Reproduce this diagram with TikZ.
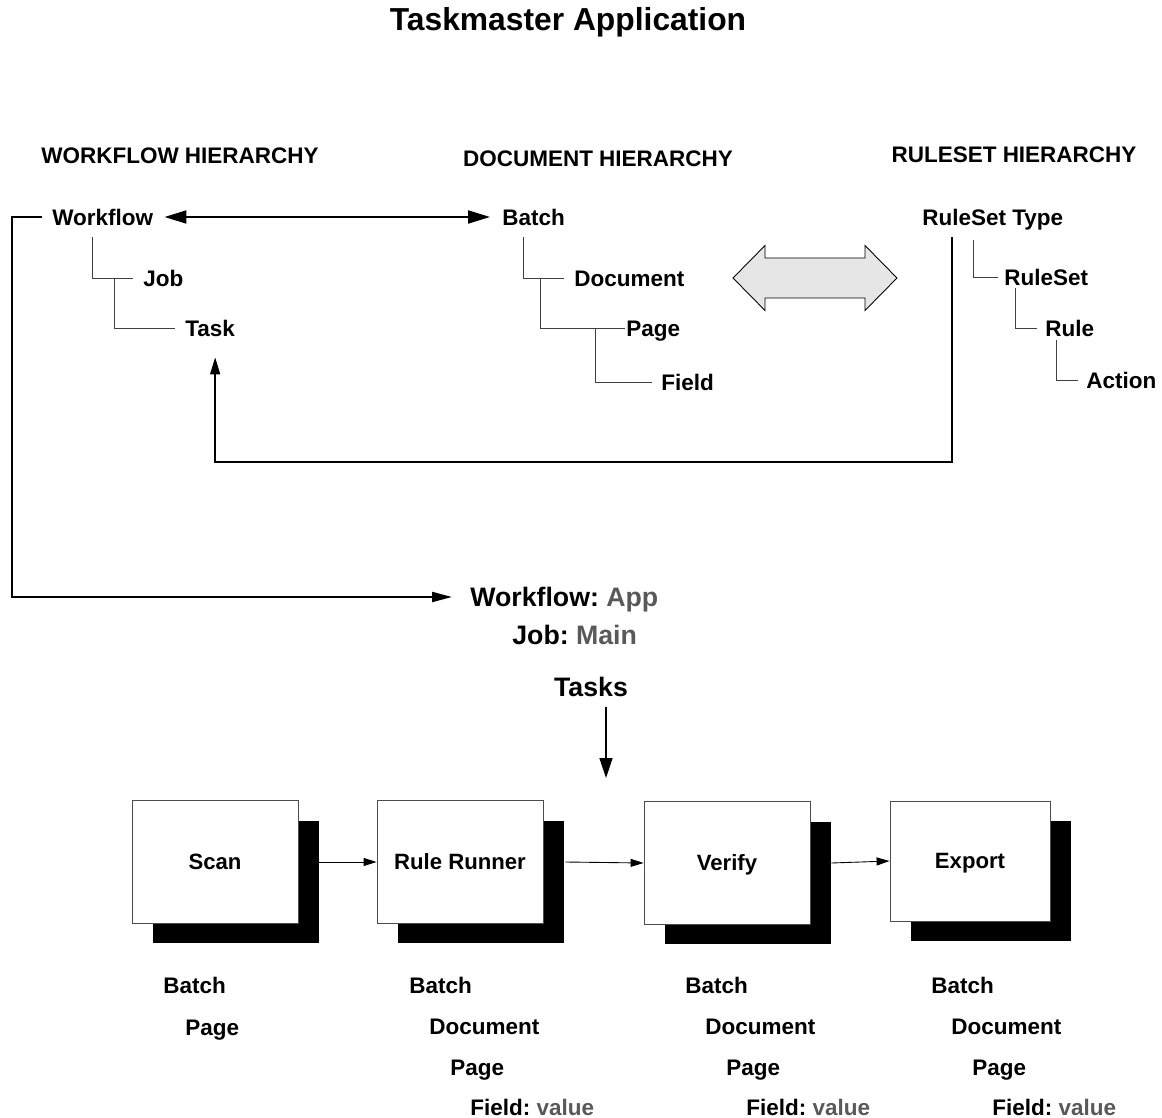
\documentclass[tikz,border=0pt]{standalone}
\usepackage{fontspec}
\setmainfont{Liberation Sans}
\usetikzlibrary{shadows,arrows.meta}
\definecolor{valueGray}{HTML}{595959}
\definecolor{arrowFill}{HTML}{E6E6E6}
\frenchspacing
\tikzset{
  item/.style={inner sep=0pt, anchor=west, text height=9.2pt, text depth=0pt, font=\fontsize{12.8}{15}\selectfont\bfseries},
  big/.style={inner sep=0pt, text height=10.9pt, text depth=0pt, font=\fontsize{15.2}{18}\selectfont\bfseries},
  heading/.style={inner sep=0pt, text height=9.2pt, text depth=0pt, font=\fontsize{12.8}{15}\selectfont\bfseries},
  taskBox/.style={rectangle, draw=black!70, line width=0.5pt, fill=white, minimum width=3.32cm, minimum height=2.46cm,
    text height=9pt, text depth=0pt, font=\fontsize{12.6}{15}\selectfont\bfseries,
    drop shadow={shadow xshift=0.42cm, shadow yshift=-0.4cm, fill=black, opacity=1}},
  treeEdge/.style={draw=black!75, line width=0.5pt},
  link/.style={line width=1.2pt},
  feedback/.style={line width=0.8pt, -{Triangle[length=0.34cm,width=0.2cm]}},
  flow/.style={line width=0.5pt, -{Triangle[length=0.26cm,width=0.16cm]}}
}
\begin{document}
\begin{tikzpicture}[x=0.02cm, y=-0.02cm]
  \useasboundingbox (0,0) rectangle (1162,1118);
  \node[inner sep=0pt, font=\fontsize{18.1}{21}\selectfont\bfseries] (title) at (568,22) {Taskmaster Application};

  % headings
  \node[heading] (wfHead) at (180,155) {WORKFLOW HIERARCHY};
  \node[heading] (docHead) at (598,158) {DOCUMENT HIERARCHY};
  \node[heading] (rsHead) at (1014,154) {RULESET HIERARCHY};

  % workflow hierarchy
  \node[item] (wf) at (52,217) {Workflow};
  \node[item] (job) at (143,278) {Job};
  \node[item] (task) at (185,328) {Task};
  \draw[treeEdge] ([xshift=0.8cm, yshift=-0.24cm]wf.south west) |- ([xshift=-0.2cm]job.west);
  \draw[treeEdge] ([xshift=-0.58cm]job.west) |- ([xshift=-0.2cm]task.west);

  % document hierarchy
  \node[item] (batch) at (502,217) {Batch};
  \node[item] (doc) at (574,278) {Document};
  \node[item] (page) at (626,328) {Page};
  \node[item] (field) at (661,382) {Field};
  \draw[treeEdge] ([xshift=0.42cm, yshift=-0.24cm]batch.south west) |- ([xshift=-0.2cm]doc.west);
  \draw[treeEdge] ([xshift=-0.68cm]doc.west) |- ([xshift=-0.02cm]page.west);
  \draw[treeEdge] ([xshift=-0.62cm]page.west) |- ([xshift=-0.18cm]field.west);

  % ruleset hierarchy
  \node[item] (rsType) at (922,217) {RuleSet Type};
  \node[item] (ruleSet) at (1004,277) {RuleSet};
  \node[item] (rule) at (1045,328) {Rule};
  \node[item] (action) at (1086,380) {Action};
  \draw[treeEdge] ([xshift=1.02cm, yshift=-0.3cm]rsType.south west) |- ([xshift=-0.12cm]ruleSet.west);
  \draw[treeEdge] ([xshift=0.22cm, yshift=-0.06cm]ruleSet.south west) |- ([xshift=-0.16cm]rule.west);
  \draw[treeEdge] ([xshift=0.22cm, yshift=-0.08cm]rule.south west) |- ([xshift=-0.16cm]action.west);

  % links between hierarchies
  \draw[link, {Triangle[length=0.44cm,width=0.26cm]}-{Triangle[length=0.44cm,width=0.26cm]}]
    ([xshift=0.22cm]wf.east) -- ([xshift=-0.24cm]batch.west);
  \draw[draw=black, line width=0.5pt, fill=arrowFill] (733,278) -- (765,245.5) -- (765,258) -- (865,258) -- (865,245.5)
    -- (897,278) -- (865,310.5) -- (865,298) -- (765,298) -- (765,310.5) -- cycle;
  \coordinate (rsCorner) at (952,462);
  \draw[feedback, shorten <=0.24cm, shorten >=0.42cm] (rsType.south west -| rsCorner) -- (rsCorner) -| ([xshift=0.1cm]task.south);

  % application
  \node[item, big, anchor=west] (wfApp) at (470,597) {Workflow: \textcolor{valueGray}{App}};
  \node[item, big, anchor=west] (jobMain) at (512,635) {Job: \textcolor{valueGray}{Main}};
  \node[big] (tasks) at (591,687) {Tasks};
  \draw[link, -{Triangle[length=0.4cm,width=0.2cm]}] ([xshift=-0.2cm]wf.west) -- ++(-30,0) |- ([xshift=-0.36cm]wfApp.west);
  \coordinate (tasksTip) at (606,778);
  \draw[line width=0.9pt, -{Triangle[length=0.4cm,width=0.26cm]}, shorten <=0.2cm] (tasks.south -| tasksTip) -- (tasksTip);

  % task boxes
  \node[taskBox] (scan) at (215,862) {Scan};
  \node[taskBox] (runner) at (460,862) {Rule Runner};
  \node[taskBox] (verify) at (727,863) {Verify};
  \node[taskBox, minimum width=3.2cm, minimum height=2.4cm] (export) at (970,861) {Export};
  \draw[flow] ([xshift=0.42cm]scan.east) -- (runner.west);
  \draw[flow] ([xshift=0.44cm]runner.east) -- (verify.west);
  \draw[flow] ([xshift=0.42cm]verify.east) -- (export.west);

  % data used by each task
  \node[item] (scanBatch) at (163,985) {Batch};
  \node[item] (scanPage) at (185,1027) {Page};
  \foreach \x/\n in {409/runner, 685/verify, 931/export} {
    \node[item] (\n-batch) at (\x,985) {Batch};
    \node[item] (\n-doc) at (\x+20,1026) {Document};
    \node[item] (\n-page) at (\x+41,1067) {Page};
    \node[item] (\n-field) at (\x+61,1107) {Field: \textcolor{valueGray}{value}};
  }
\end{tikzpicture}
\end{document}
